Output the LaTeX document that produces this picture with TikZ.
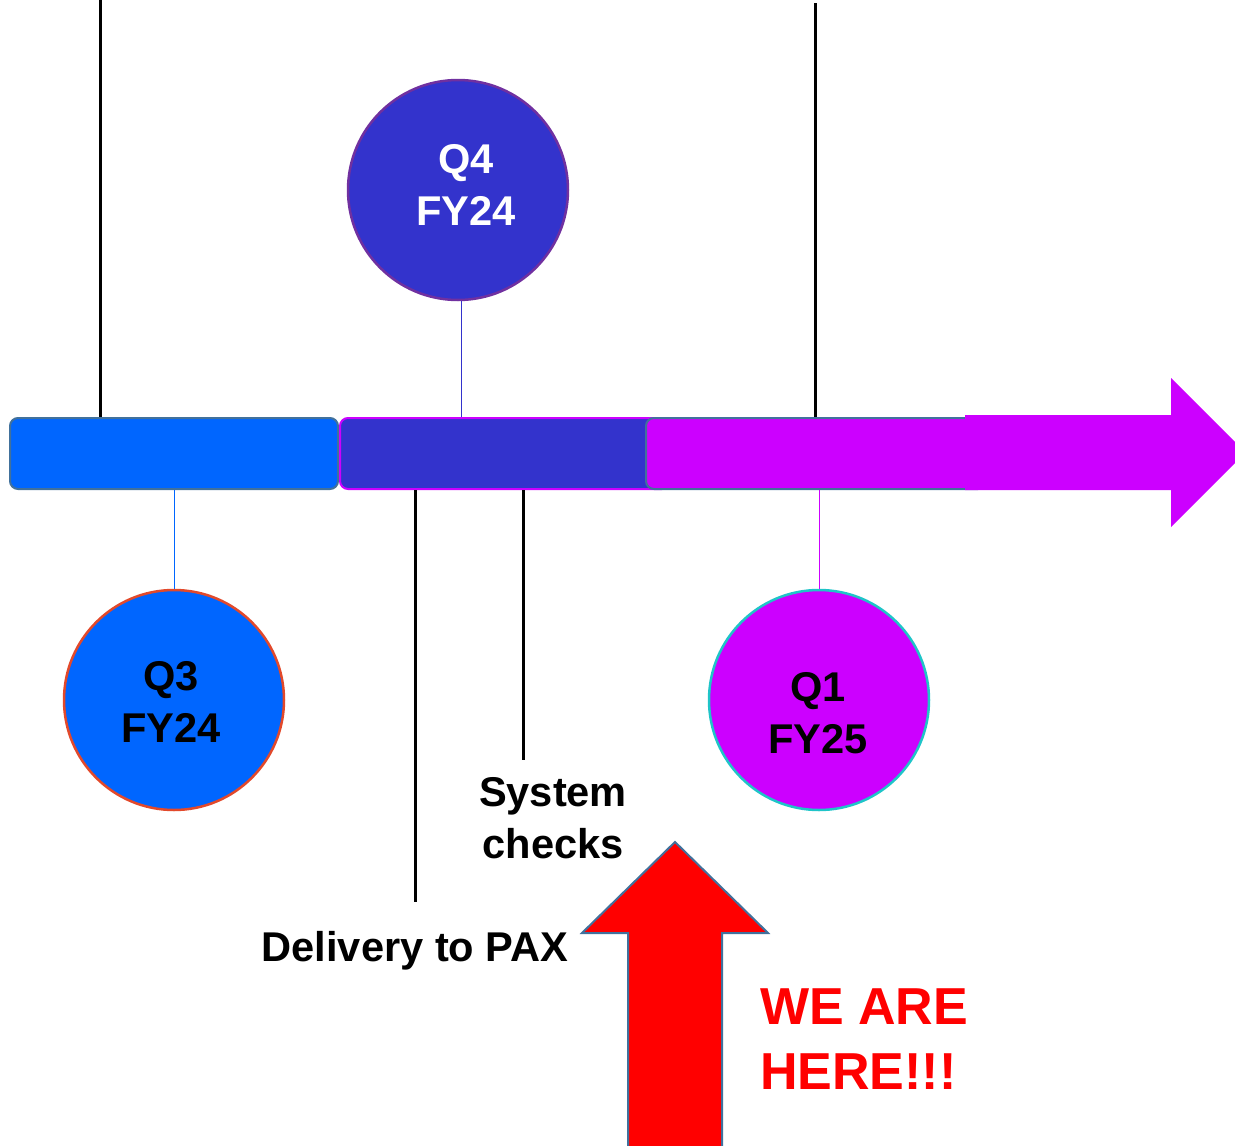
\documentclass[tikz,border=0pt]{standalone}
\usepackage{fontspec}
\setmainfont{Liberation Sans}
\definecolor{cblue}{HTML}{0066FF}
\definecolor{cdblue}{HTML}{3333CC}
\definecolor{cpurp}{HTML}{CC00FF}
\definecolor{steel}{HTML}{41719C}
\definecolor{q4edge}{HTML}{7030A0}
\definecolor{q3edge}{HTML}{E2492B}
\definecolor{q1edge}{HTML}{1FC4C8}
\definecolor{cred}{HTML}{FF0000}
\begin{document}
\begin{tikzpicture}[x=1pt,y=-1pt,
  bar/.style={draw, rounded corners=8pt, minimum height=71pt, inner sep=0pt, line width=2pt},
  qcirc/.style={circle, minimum size=220pt, inner sep=0pt, line width=2.5pt},
  lbl/.style={font=\bfseries\fontsize{41.6}{52}\selectfont, align=center, inner sep=0pt},
  tick/.style={line width=3pt, black},
  thinln/.style={line width=1pt}]
\useasboundingbox (0,0) rectangle (1235,1146);
\clip (0,0) rectangle (1235,1146);
% coordinates for free ends
\coordinate (t1) at (100,0);
\coordinate (t2) at (815,3);
\coordinate (d1) at (415,902);
\coordinate (s1) at (523,760);
% bars
\node[bar, fill=cblue, draw=steel, minimum width=328pt] (b1) at (174,453.5) {};
\node[bar, fill=cdblue, draw=cpurp, minimum width=330pt] (b2) at (505,453.5) {};
\node[bar, fill=cpurp, draw=steel, minimum width=340pt] (b3) at (816,453.5) {};
\fill[cpurp] (965,415) -- (1171,415) -- (1171,378) -- (1245.5,452.5) -- (1171,527) -- (1171,490) -- (965,490) -- cycle;
% ticks
\draw[tick] (t1) -- (t1 |- b1.north);
\draw[tick] (t2) -- (t2 |- b3.north);
\draw[tick] (d1 |- b2.south) -- (d1);
\draw[tick] (s1 |- b2.south) -- (s1);
% circles
\node[qcirc, fill=cdblue, draw=q4edge] (q4) at (458,190) {};
\node[qcirc, fill=cblue, draw=q3edge] (q3) at (174,700) {};
\node[qcirc, fill=cpurp, draw=q1edge] (q1) at (819,700) {};
\node[lbl, text=white] (q4t) at (466,185) {Q4\\FY24};
\node[lbl, text=black] (q3t) at (171,701.5) {Q3\\FY24};
\node[lbl, text=black] (q1t) at (818,713) {Q1\\FY25};
% thin connectors
\draw[thinln, cdblue] (q4.-88) -- (q4.-88 |- b2.north);
\draw[thinln, cblue] (q3.north |- b1.south) -- (q3.north);
\draw[thinln, cpurp] (q1.north |- b3.south) -- (q1.north);
% labels
\node[lbl] (sys) at (553,818) {System\\checks};
\node[lbl, anchor=base] (deliv) at (415,961) {Delivery to PAX};
% red arrow
\draw[fill=cred, draw=steel, line width=2pt] (675,842) -- (768,933) -- (722,933) -- (722,1160) -- (628,1160) -- (628,933) -- (582,933) -- cycle;
\node[inner sep=0pt, anchor=west, align=left, text=cred, font=\bfseries\fontsize{52}{65}\selectfont] (here) at (760,1039) {WE ARE\\HERE!!!};
\end{tikzpicture}
\end{document}
